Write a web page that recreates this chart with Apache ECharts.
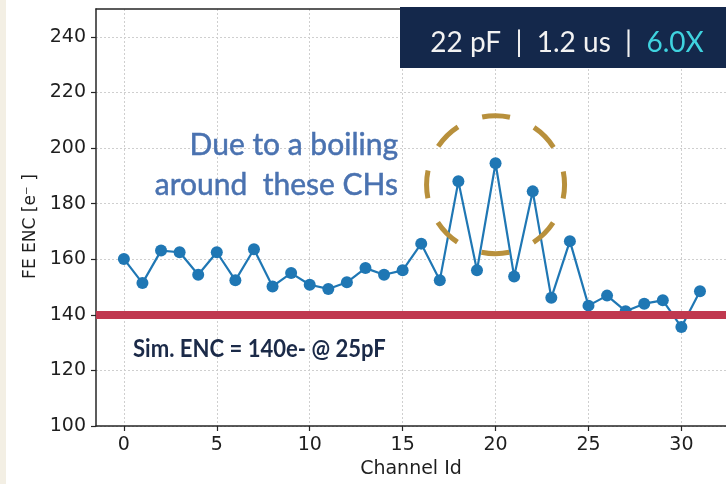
<!DOCTYPE html>
<html>
<head>
<meta charset="utf-8">
<script src="https://cdn.jsdelivr.net/npm/echarts@6/dist/echarts.min.js"></script>
<style>
  html, body { margin: 0; padding: 0; background: #ffffff; }
  #chart { width: 726px; height: 484px; }
</style>
</head>
<body>
<div id="chart"></div>
<script>
// Channel numbers and measured front-end ENC per channel (electrons)
const channels = [0, 1, 2, 3, 4, 5, 6, 7, 8, 9, 10, 11, 12, 13, 14, 15,
                  16, 17, 18, 19, 20, 21, 22, 23, 24, 25, 26, 27, 28, 29, 30, 31];
const encValues = [160.1, 151.4, 163.1, 162.5, 154.4, 162.5, 152.4, 163.6,
                   150.2, 155.0, 150.8, 149.3, 151.7, 156.8, 154.4, 156.0,
                   165.6, 152.4, 188.0, 156.0, 194.5, 153.8, 184.4, 146.1,
                   166.5, 143.3, 146.9, 141.3, 144.0, 145.2, 135.6, 148.5];

// Axis tick labels
const xTicks = [0, 5, 10, 15, 20, 25, 30];
const yTicks = [100, 120, 140, 160, 180, 200, 220, 240];

// Simulated ENC reference level
const simEnc = 140;

// Centre of the highlighted region (channel, ENC)
const boilingCentre = [20, 186.8];

const seriesData = channels.map((c, i) => [c, encValues[i]]);

const chart = echarts.init(document.getElementById('chart'));

const axisFont = "'DejaVu Sans', sans-serif";
const tickFont = { fontFamily: axisFont, fontSize: 19, color: '#1e1e1e' };
const gridLine = { show: true, lineStyle: { color: '#cfcfcf', type: [2, 2], width: 1 } };

chart.setOption({
  animation: false,
  backgroundColor: '#ffffff',
  textStyle: { fontFamily: axisFont },
  grid: { left: 96, right: 0, top: 9, bottom: 55, containLabel: false },
  xAxis: [{
    type: 'value',
    min: -1.5,
    max: 32.4,
    name: 'Channel Id',
    nameLocation: 'middle',
    nameGap: 34,
    nameTextStyle: { fontFamily: axisFont, fontSize: 19, color: '#1e1e1e' },
    axisLine: { show: true, onZero: false, lineStyle: { color: '#262626', width: 1.5 } },
    axisTick: { show: true, length: 5, customValues: xTicks, lineStyle: { color: '#262626', width: 1.2 } },
    axisLabel: { customValues: xTicks, margin: 10, ...tickFont },
    splitLine: gridLine
  }, {
    type: 'value',
    position: 'top',
    min: -1.5,
    max: 32.4,
    axisLine: { show: true, onZero: false, lineStyle: { color: '#262626', width: 1.5 } },
    axisTick: { show: false },
    axisLabel: { show: false },
    splitLine: { show: false }
  }],
  yAxis: {
    type: 'value',
    min: 100,
    max: 250,
    interval: 20,
    name: 'FE ENC [e\u207B ]',
    nameLocation: 'middle',
    nameGap: 57,
    nameTextStyle: { fontFamily: axisFont, fontSize: 17, color: '#1e1e1e', padding: [0, 18, 0, 0] },
    axisLine: { show: true, onZero: false, lineStyle: { color: '#262626', width: 1.5 } },
    axisTick: { show: true, length: 5, customValues: yTicks, lineStyle: { color: '#262626', width: 1.2 } },
    axisLabel: { customValues: yTicks, margin: 10, ...tickFont },
    splitLine: gridLine
  },
  series: [{
    type: 'line',
    data: seriesData,
    symbol: 'circle',
    symbolSize: 12,
    z: 3,
    lineStyle: { color: '#1f77b4', width: 2.2 },
    itemStyle: { color: '#1f77b4' },
    markLine: {
      silent: true,
      symbol: ['none', 'none'],
      label: { show: false },
      z: 4,
      lineStyle: { color: '#c0384f', width: 8, type: 'solid' },
      data: [{ yAxis: simEnc }]
    }
  }]
});

// Annotations drawn on top of the plot
function drawAnnotations() {
  const c = chart.convertToPixel({ xAxisIndex: 0, yAxisIndex: 0 }, boilingCentre);
  const r = 69;
  const segment = 2 * Math.PI * r / 8;
  const dash = 28;
  chart.setOption({
    graphic: [
      { type: 'rect', left: 0, top: 0, shape: { width: 6, height: 484 }, style: { fill: '#f3efe4' }, z: 0 },
      {
        type: 'circle',
        shape: { cx: c[0], cy: c[1], r: r },
        style: {
          fill: 'none', stroke: '#b8903c', lineWidth: 5,
          lineDash: [dash, segment - dash], lineDashOffset: dash / 2
        },
        z: 10
      },
      {
        type: 'text',
        x: 398, y: 145,
        style: {
          text: 'Due to a boiling', fill: '#4a72b0', stroke: '#4a72b0', lineWidth: 0.5,
          align: 'right', verticalAlign: 'middle', font: '30px Lato'
        },
        z: 10
      },
      {
        type: 'text',
        x: 398, y: 185,
        style: {
          text: 'around  these CHs', fill: '#4a72b0', stroke: '#4a72b0', lineWidth: 0.5,
          align: 'right', verticalAlign: 'middle', font: '30px Lato'
        },
        z: 10
      },
      {
        type: 'text',
        x: 133, y: 349,
        scaleX: 0.92,
        style: {
          text: 'Sim. ENC = 140e- @ 25pF', fill: '#1b2a48', align: 'left', verticalAlign: 'middle',
          font: 'bold 24px Lato'
        },
        z: 10
      },
      { type: 'rect', shape: { x: 400, y: 7, width: 326, height: 61 }, style: { fill: '#14284b' }, z: 20 },
      {
        type: 'text',
        x: 567, y: 43,
        style: {
          text: '{w|22 pF  |  1.2 us  |  }{c|6.0X}', align: 'center', verticalAlign: 'middle',
          rich: {
            w: { fill: '#f2f2f2', font: '28px Lato' },
            c: { fill: '#3fd3df', font: '28px Lato' }
          }
        },
        z: 21
      }
    ]
  });
}
drawAnnotations();
</script>
</body>
</html>
